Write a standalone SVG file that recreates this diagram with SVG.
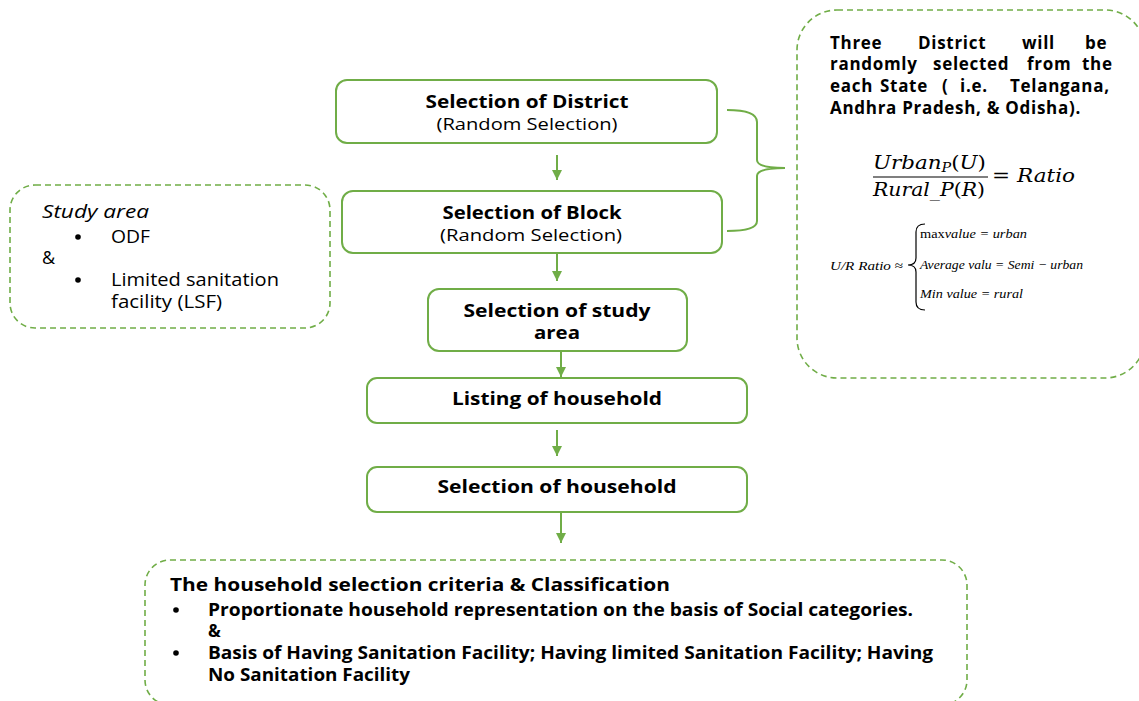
<svg xmlns="http://www.w3.org/2000/svg" width="1139" height="701" viewBox="0 0 1139 701">
  <defs>
    <marker id="ah" markerUnits="userSpaceOnUse" markerWidth="12" markerHeight="10" refX="10" refY="5" orient="auto">
      <path d="M0,0 L10,5 L0,10 Z" fill="#70AD47"/>
    </marker>
    <style>
      .box { fill: #ffffff; stroke: #70AD47; stroke-width: 2; }
      .dash { fill: none; stroke: #70AD47; stroke-width: 1.6; stroke-dasharray: 6 4; }
      .conn { stroke: #70AD47; stroke-width: 2; fill: none; }
      .b { font-family: "Open Sans", "Liberation Sans", sans-serif; font-weight: bold; font-size: 18px; fill: #000; text-anchor: middle; }
      .r { font-family: "Open Sans", "Liberation Sans", sans-serif; font-size: 17px; fill: #000; text-anchor: middle; }
      .lt { font-family: "Open Sans", "Liberation Sans", sans-serif; font-size: 18px; fill: #000; }
      .rt { font-family: "Open Sans", "Liberation Sans", sans-serif; font-weight: bold; font-size: 17px; letter-spacing: 0.7px; fill: #000; }
      .bt { font-family: "Open Sans", "Liberation Sans", sans-serif; font-weight: bold; font-size: 17px; fill: #000; }
      .m { font-family: "DejaVu Serif", "Liberation Serif", serif; font-style: italic; font-size: 18px; fill: #000; }
      .s { font-family: "Liberation Serif", serif; font-style: italic; font-size: 13px; fill: #000; }
    </style>
  </defs>

  <g id="district">
    <rect class="box" x="336" y="80" width="381" height="63" rx="11"/>
    <text class="b" x="527" y="108" textLength="203" lengthAdjust="spacingAndGlyphs">Selection of District</text>
    <text class="r" x="527" y="130" textLength="181" lengthAdjust="spacingAndGlyphs">(Random Selection)</text>
  </g>

  <g id="block">
    <rect class="box" x="342" y="191" width="380" height="62" rx="11"/>
    <text class="b" x="532" y="219" textLength="179" lengthAdjust="spacingAndGlyphs">Selection of Block</text>
    <text class="r" x="531" y="241" textLength="182" lengthAdjust="spacingAndGlyphs">(Random Selection)</text>
  </g>

  <g id="study-area">
    <rect class="box" x="428" y="289" width="259" height="62" rx="11"/>
    <text class="b" x="557" y="317" font-size="16" textLength="187" lengthAdjust="spacingAndGlyphs">Selection of study</text>
    <text class="b" x="557" y="339" font-size="16" textLength="46" lengthAdjust="spacingAndGlyphs">area</text>
  </g>

  <g id="listing">
    <rect class="box" x="367" y="378" width="380" height="45" rx="10"/>
    <text class="b" x="557" y="405" textLength="210" lengthAdjust="spacingAndGlyphs">Listing of household</text>
  </g>

  <g id="selection-household">
    <rect class="box" x="367" y="467" width="380" height="45" rx="10"/>
    <text class="b" x="557" y="493" textLength="239" lengthAdjust="spacingAndGlyphs">Selection of household</text>
  </g>

  <g id="study-area-note">
    <rect class="dash" x="10" y="185" width="320" height="143" rx="25"/>
    <text class="lt" x="42" y="218" font-style="italic" textLength="107" lengthAdjust="spacingAndGlyphs">Study area</text>
    <circle cx="78" cy="237" r="2.8" fill="#000"/>
    <text class="lt" x="111" y="243" textLength="39" lengthAdjust="spacingAndGlyphs">ODF</text>
    <text class="lt" x="42" y="264">&amp;</text>
    <circle cx="78" cy="280" r="2.8" fill="#000"/>
    <text class="lt" x="111" y="286" textLength="168" lengthAdjust="spacingAndGlyphs">Limited sanitation</text>
    <text class="lt" x="111" y="308" textLength="111" lengthAdjust="spacingAndGlyphs">facility (LSF)</text>
  </g>

  <g id="district-note">
    <rect class="dash" x="797" y="10" width="348" height="368" rx="40"/>
    <text class="rt"><tspan x="830" y="49">Three</tspan><tspan x="918" y="49">District</tspan><tspan x="1022" y="49">will</tspan><tspan x="1085" y="49">be</tspan><tspan x="830" y="70">randomly</tspan><tspan x="933" y="70">selected</tspan><tspan x="1027" y="70">from</tspan><tspan x="1082" y="70">the</tspan><tspan x="830" y="92">each</tspan><tspan x="880" y="92">State</tspan><tspan x="942" y="92">(</tspan><tspan x="960" y="92">i.e.</tspan><tspan x="1010" y="92">Telangana,</tspan><tspan x="830" y="114">Andhra Pradesh, &amp; Odisha).</tspan></text>

    <text class="m" x="873" y="169" textLength="113" lengthAdjust="spacingAndGlyphs">Urban<tspan font-size="12" dy="3">P</tspan><tspan dy="-3" font-style="normal">(</tspan>U<tspan font-style="normal">)</tspan></text>
    <line x1="873" y1="177" x2="988" y2="177" stroke="#000" stroke-width="1.2"/>
    <text class="m" x="873" y="196" textLength="112" lengthAdjust="spacingAndGlyphs">Rural_P<tspan font-style="normal">(</tspan>R<tspan font-style="normal">)</tspan></text>
    <text class="m" x="992" y="182" textLength="83" lengthAdjust="spacingAndGlyphs"><tspan font-style="normal">=</tspan> Ratio</text>

    <text class="s" x="830" y="270" textLength="73" lengthAdjust="spacingAndGlyphs">U/R Ratio <tspan font-style="normal">≈</tspan></text>
    <path d="M925,224 Q916,224 916,232 L916,258 Q916,265 908,265 Q916,265 916,272 L916,302 Q916,310 925,310" fill="none" stroke="#000" stroke-width="1.2"/>
    <text class="s" x="920" y="238" textLength="107" lengthAdjust="spacingAndGlyphs"><tspan font-style="normal">max</tspan>value = urban</text>
    <text class="s" x="920" y="269" textLength="163" lengthAdjust="spacingAndGlyphs">Average valu = Semi − urban</text>
    <text class="s" x="920" y="298" textLength="103" lengthAdjust="spacingAndGlyphs">Min value = rural</text>
  </g>

  <g id="criteria-note">
    <rect class="dash" x="145" y="560" width="822" height="145" rx="25"/>
    <text class="bt" x="170" y="591" textLength="500" lengthAdjust="spacingAndGlyphs">The household selection criteria &amp; Classification</text>
    <circle cx="176" cy="610" r="2.8" fill="#000"/>
    <text class="bt" x="208" y="616" textLength="705" lengthAdjust="spacingAndGlyphs">Proportionate household representation on the basis of Social categories.</text>
    <text class="bt" x="208" y="637">&amp;</text>
    <circle cx="176" cy="653" r="2.8" fill="#000"/>
    <text class="bt" x="208" y="659" textLength="725" lengthAdjust="spacingAndGlyphs">Basis of Having Sanitation Facility; Having limited Sanitation Facility; Having</text>
    <text class="bt" x="208" y="681" textLength="202" lengthAdjust="spacingAndGlyphs">No Sanitation Facility</text>
  </g>

  <g id="connectors">
    <line class="conn" x1="557" y1="155" x2="557" y2="180" marker-end="url(#ah)"/>
    <line class="conn" x1="557" y1="253" x2="557" y2="281" marker-end="url(#ah)"/>
    <line class="conn" x1="561" y1="351" x2="561" y2="377" marker-end="url(#ah)"/>
    <line class="conn" x1="557" y1="430" x2="557" y2="456" marker-end="url(#ah)"/>
    <line class="conn" x1="561" y1="512" x2="561" y2="543" marker-end="url(#ah)"/>
    <path class="conn" stroke-width="1.3" d="M727,110 Q757,110 757,122 L757,160 Q757,168 785,168 Q757,168 757,176 L757,221 Q757,231 727,231"/>
  </g>
</svg>
